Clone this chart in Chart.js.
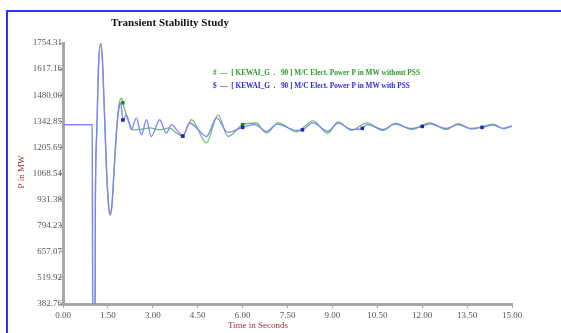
<!DOCTYPE html>
<html>
<head>
<meta charset="utf-8">
<script src="https://cdn.jsdelivr.net/npm/chart.js@4"></script>
<style>
  body { margin: 0; background: #fff; overflow: hidden; }
  canvas { display: block; }
</style>
</head>
<body>
<canvas id="chart" width="561" height="333"></canvas>
<script>
// tick labels
const yTicks = [382.76, 519.92, 657.07, 794.23, 931.38, 1068.54, 1205.69, 1342.85, 1480.00, 1617.16, 1754.31];
const xTicks = [0, 1.5, 3, 4.5, 6, 7.5, 9, 10.5, 12, 13.5, 15];

// without PSS (green)
const timeNoPss = [0, 0.98, 0.99, 1.07, 1.08, 1.13, 1.19, 1.26, 1.32, 1.38, 1.45, 1.52, 1.57, 1.63, 1.71,
  1.79, 1.87, 1.96, 2.0, 2.17, 2.34, 2.6, 2.9, 3.23, 3.56, 3.79, 4.0, 4.29, 4.79, 5.18, 5.51, 6.0, 6.45,
  6.8, 7.19, 7.8, 8.36, 8.84, 9.19, 9.64, 10.15, 10.7, 11.1, 11.64, 12.25, 12.8, 13.2, 13.65, 14.37, 14.72, 15.0];
const powerNoPss = [1325, 1325, 300, 300, 870, 1300, 1650, 1750, 1650, 1400, 1100, 900, 855, 900, 1100,
  1300, 1430, 1465, 1440, 1351, 1298, 1300, 1308, 1298, 1308, 1281, 1265, 1351, 1229, 1377, 1263, 1325, 1334,
  1281, 1335, 1288, 1345, 1280, 1340, 1295, 1335, 1295, 1333, 1300, 1335, 1300, 1330, 1302, 1328, 1303, 1318];

// with PSS (blue)
const timePss = [0, 0.98, 0.99, 1.07, 1.08, 1.13, 1.19, 1.26, 1.32, 1.38, 1.45, 1.52, 1.57, 1.63, 1.71,
  1.79, 1.87, 1.93, 2.0, 2.12, 2.28, 2.45, 2.62, 2.79, 2.95, 3.23, 3.45, 3.62, 3.84, 4.0, 4.23, 4.51, 4.79,
  5.13, 5.5, 6.0, 6.4, 6.8, 7.15, 7.8, 8.0, 8.35, 8.84, 9.2, 9.64, 10.0, 10.15, 10.7, 11.08, 11.64, 12.0,
  12.25, 12.8, 13.2, 13.6, 14.0, 14.37, 14.7, 15.0];
const powerPss = [1325, 1325, 300, 300, 870, 1290, 1640, 1754, 1660, 1410, 1110, 910, 850, 890, 1090,
  1290, 1410, 1440, 1350, 1377, 1299, 1360, 1272, 1351, 1263, 1351, 1281, 1325, 1290, 1265, 1334, 1300, 1263,
  1361, 1285, 1311, 1325, 1290, 1328, 1295, 1298, 1335, 1290, 1333, 1300, 1306, 1325, 1300, 1328, 1305, 1316,
  1330, 1306, 1325, 1306, 1311, 1323, 1306, 1318];

const markerTimes = [2, 4, 6, 8, 10, 12, 14];

const serif = '"Liberation Serif", "DejaVu Serif", serif';

function toPoints(xs, ys) {
  return xs.map((x, i) => ({ x: x, y: ys[i] }));
}
function markerRadius(c) {
  return c.raw && markerTimes.includes(c.raw.x) ? 2.5 : 0;
}

// blue frame on top and left edge only
const framePlugin = {
  id: "frame",
  beforeDraw(chart) {
    const ctx = chart.ctx;
    ctx.save();
    ctx.strokeStyle = "#3030ff";
    ctx.lineWidth = 2;
    ctx.beginPath();
    ctx.moveTo(561, 11);
    ctx.lineTo(7, 11);
    ctx.lineTo(7, 333);
    ctx.stroke();
    ctx.restore();
  }
};

// title, legend and axis titles sit at fixed spots like the original plot
const textPlugin = {
  id: "texts",
  afterDraw(chart) {
    const ctx = chart.ctx;
    ctx.save();
    ctx.textBaseline = "middle";
    ctx.textAlign = "center";
    ctx.fillStyle = "#111";
    ctx.font = "bold 11px " + serif;
    ctx.fillText("Transient Stability Study", 170, 23);

    ctx.textAlign = "left";
    ctx.font = "bold 7.3px " + serif;
    ctx.fillStyle = "#2a9a2a";
    ctx.fillText("#  \u2014  [ KEWAI_G  .   90 ] M/C Elect. Power P in MW without PSS", 213, 73);
    ctx.fillStyle = "#2a2ae0";
    ctx.fillText("$  \u2014  [ KEWAI_G  .   90 ] M/C Elect. Power P in MW with PSS", 213, 86);

    ctx.fillStyle = "#a03030";
    ctx.font = "9px " + serif;
    ctx.textAlign = "center";
    ctx.fillText("Time in Seconds", 258, 326);
    ctx.translate(22, 172);
    ctx.rotate(-Math.PI / 2);
    ctx.fillText("P in MW", 0, 0);
    ctx.restore();
  }
};

new Chart(document.getElementById("chart"), {
  type: "line",
  data: {
    datasets: [
      {
        label: "with PSS",
        data: toPoints(timePss, powerPss),
        borderColor: "#8080ff",
        borderWidth: 1.3,
        cubicInterpolationMode: "monotone",
        pointStyle: "rect",
        pointRadius: markerRadius,
        pointBackgroundColor: "#1c2aa8",
        pointBorderColor: "#1c2aa8",
        pointBorderWidth: 0
      },
      {
        label: "without PSS",
        data: toPoints(timeNoPss, powerNoPss),
        borderColor: "#6cc06c",
        borderWidth: 1.3,
        cubicInterpolationMode: "monotone",
        pointStyle: "rect",
        pointRadius: markerRadius,
        pointBackgroundColor: "#1f8a1f",
        pointBorderColor: "#1f8a1f",
        pointBorderWidth: 0
      }
    ]
  },
  options: {
    responsive: false,
    animation: false,
    layout: { padding: { left: 0, top: 43, right: 49, bottom: 0 } },
    plugins: {
      legend: { display: false },
      tooltip: { enabled: false }
    },
    scales: {
      x: {
        type: "linear",
        min: 0,
        max: 15,
        afterBuildTicks: s => { s.ticks = xTicks.map(v => ({ value: v })); },
        afterFit: s => { s.height = 29; },
        border: { color: "#a8a8a8", width: 3 },
        grid: { drawOnChartArea: false, drawTicks: true, tickLength: 4, color: "#a8a8a8" },
        ticks: {
          color: "#555",
          font: { family: serif, size: 9 },
          padding: 2,
          maxRotation: 0,
          callback: v => v.toFixed(2)
        }
      },
      y: {
        min: yTicks[0],
        max: yTicks[yTicks.length - 1],
        afterBuildTicks: s => { s.ticks = yTicks.map(v => ({ value: v })); },
        afterFit: s => { s.width = 63; },
        border: { color: "#a8a8a8", width: 3 },
        grid: { drawOnChartArea: false, drawTicks: true, tickLength: 4, color: "#a8a8a8" },
        ticks: {
          color: "#555",
          font: { family: serif, size: 9 },
          padding: -3,
          callback: v => v.toFixed(2)
        }
      }
    }
  },
  plugins: [framePlugin, textPlugin]
});
</script>
</body>
</html>
